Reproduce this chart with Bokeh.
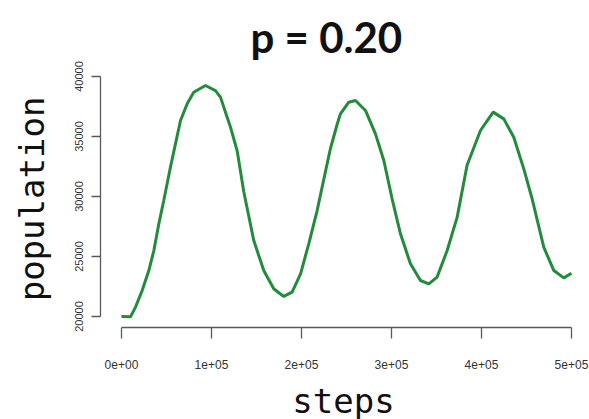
import math
from bokeh.plotting import figure
from bokeh.models import Range1d, FixedTicker
from bokeh.embed import file_html
from bokeh.resources import INLINE

steps = [0, 10000, 15600, 23000, 30400, 36000, 41500, 47000, 54400, 60000,
         65600, 73000, 80300, 93300, 104400, 110000, 117400, 121100, 128500, 135900,
         147000, 158100, 169200, 180300, 189600, 199000, 208100, 217400, 228500, 232200,
         239600, 243300, 252600, 260000, 271100, 282200, 291500, 300700, 310000, 321100,
         332200, 341500, 350700, 361900, 373000, 384000, 398900, 413000, 424800, 435900,
         447000, 456300, 469200, 480400, 491500, 500000]
population = [20000, 19970, 20780, 22170, 23830, 25500, 27720, 29670, 32440, 34390,
              36330, 37720, 38690, 39250, 38830, 38280, 36600, 35780, 33830, 30400,
              26330, 23830, 22310, 21670, 22030, 23560, 26060, 28830, 32720, 34000,
              36000, 36890, 37860, 38000, 37170, 35220, 33000, 29810, 26890, 24390,
              23000, 22720, 23280, 25500, 28280, 32600, 35500, 37030, 36470, 34940,
              32300, 29810, 25780, 23830, 23220, 23600]

x_ticks = [0, 100000, 200000, 300000, 400000, 500000]
x_tick_labels = ["0e+00", "1e+05", "2e+05", "3e+05", "4e+05", "5e+05"]
y_ticks = [20000, 25000, 30000, 35000, 40000]

p = figure(width=589, height=423, output_backend="svg", toolbar_location=None,
           title="p = 0.20",
           x_range=Range1d(-23300, 516700), y_range=Range1d(19083, 40500),
           min_border_left=100, min_border_right=3, min_border_top=70,
           min_border_bottom=96)

p.line(steps, population, line_color="#238b3b", line_width=3)

p.grid.visible = False
p.outline_line_color = None
p.background_fill_color = "white"
p.border_fill_color = "white"

p.title.text_font = "Lato"
p.title.text_font_style = "bold"
p.title.text_font_size = "42px"
p.title.text_color = "#111111"
p.title.align = "left"
p.title.offset = 150
p.title.standoff = 17

xa = p.xaxis[0]
xa.ticker = FixedTicker(ticks=x_ticks)
xa.major_label_overrides = {t: l for t, l in zip(x_ticks, x_tick_labels)}
xa.bounds = (0, 500000)
xa.minor_tick_line_color = None
xa.major_tick_in = 0
xa.major_tick_out = 11
xa.major_label_standoff = 21
xa.axis_line_color = "#5a5a5a"
xa.major_tick_line_color = "#5a5a5a"
xa.axis_line_width = 1.3
xa.major_tick_line_width = 1.3
xa.major_label_text_font = "Liberation Sans"
xa.major_label_text_font_size = "12px"
xa.major_label_text_color = "#333333"
xa.axis_label = "steps"
xa.axis_label_text_font = "DejaVu Sans Mono"
xa.axis_label_text_font_size = "34px"
xa.axis_label_text_font_style = "normal"
xa.axis_label_text_color = "#111111"
xa.axis_label_standoff = 9

ya = p.yaxis[0]
ya.ticker = FixedTicker(ticks=y_ticks)
ya.bounds = (20000, 40000)
ya.minor_tick_line_color = None
ya.major_tick_in = 0
ya.major_tick_out = 9
ya.major_label_standoff = 8
ya.major_label_orientation = "parallel"
ya.axis_line_color = "#5a5a5a"
ya.major_tick_line_color = "#5a5a5a"
ya.axis_line_width = 1.3
ya.major_tick_line_width = 1.3
ya.major_label_text_font = "Liberation Sans"
ya.major_label_text_font_size = "11px"
ya.major_label_text_color = "#333333"
ya.axis_label = "population"
ya.axis_label_text_font = "DejaVu Sans Mono"
ya.axis_label_text_font_size = "34px"
ya.axis_label_text_font_style = "normal"
ya.axis_label_text_color = "#111111"
ya.axis_label_standoff = 21

open("out.html", "w").write(file_html(p, INLINE))
